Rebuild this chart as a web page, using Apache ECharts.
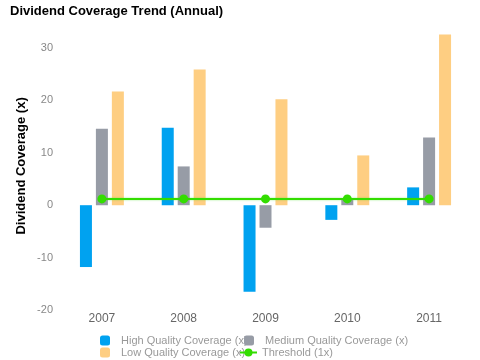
<!DOCTYPE html>
<html>
<head>
<meta charset="utf-8">
<script src="https://cdn.jsdelivr.net/npm/echarts@6/dist/echarts.min.js"></script>
<style>html,body{margin:0;padding:0;background:#fff}#c{width:480px;height:360px}</style>
</head>
<body>
<div id="c"></div>
<script>
var years = ['2007', '2008', '2009', '2010', '2011'];
var highQuality = [-11.8, 14.8, -16.5, -2.8, 3.4];
var mediumQuality = [14.6, 7.4, -4.3, 1.1, 12.9];
var lowQuality = [21.7, 25.9, 20.2, 9.5, 32.6];
var threshold = [1.2, 1.2, 1.2, 1.2, 1.2];
var yTicks = [-20, -10, 0, 10, 20, 30];

var names = ['High Quality Coverage (x)', 'Medium Quality Coverage (x)', 'Low Quality Coverage (x)', 'Threshold (1x)'];
var colors = ['#00A2F0', '#979CA6', '#FECE82', '#33DD00'];

var FONT = 'Liberation Sans';
var chart = echarts.init(document.getElementById('c'));
var legendText = { color: '#999', fontSize: 11, fontFamily: FONT, padding: [0, 0, 0, 6] };
function leg(name, left, top) {
  return {
    data: [name], left: left, top: top, itemWidth: 10, itemHeight: 10, itemGap: 4,
    padding: 0, icon: 'roundRect', textStyle: legendText, selectedMode: false
  };
}
chart.setOption({
  animation: false,
  color: colors,
  title: {
    text: 'Dividend Coverage Trend (Annual)', left: 5, top: 0,
    textStyle: { fontSize: 13, fontWeight: 'bold', color: '#000', fontFamily: FONT }
  },
  legend: [
    leg(names[0], 100, 335),
    leg(names[1], 244, 335),
    leg(names[2], 100, 347),
    {
      data: [names[3]], left: 239, top: 347, itemWidth: 17, itemHeight: 10,
      padding: 0, textStyle: { color: '#999', fontSize: 11, fontFamily: FONT, padding: [0, 0, 0, 0] },
      selectedMode: false
    }
  ],
  grid: { left: 61, right: 10, top: 21.8, bottom: 50 },
  xAxis: {
    type: 'category', data: years,
    axisLine: { show: false }, axisTick: { show: false },
    axisLabel: { color: '#666', fontSize: 12, margin: 3, fontFamily: FONT }
  },
  yAxis: {
    type: 'value', min: -20, max: 35, interval: 10,
    name: 'Dividend Coverage (x)', nameLocation: 'middle', nameGap: 33, nameRotate: 90,
    nameMoveOverlap: false,
    nameTextStyle: { fontSize: 13, fontWeight: 'bold', color: '#000', fontFamily: FONT },
    axisLine: { show: false }, axisTick: { show: false }, splitLine: { show: false },
    axisLabel: {
      color: '#888', fontSize: 11, margin: 8, fontFamily: FONT, showMaxLabel: false,
      formatter: function (v) { return yTicks.indexOf(v) >= 0 ? String(v) : ''; }
    }
  },
  series: [
    { name: names[0], type: 'bar', data: highQuality, barWidth: 12, barGap: '33%' },
    { name: names[1], type: 'bar', data: mediumQuality, barWidth: 12, barGap: '33%' },
    { name: names[2], type: 'bar', data: lowQuality, barWidth: 12, barGap: '33%' },
    {
      name: names[3], type: 'line', data: threshold, symbol: 'circle', symbolSize: 9,
      lineStyle: { width: 2, color: '#33DD00', shadowColor: 'rgba(51,221,0,0.5)', shadowBlur: 2 },
      itemStyle: { color: '#33DD00' }, z: 5
    }
  ]
});
</script>
</body>
</html>
